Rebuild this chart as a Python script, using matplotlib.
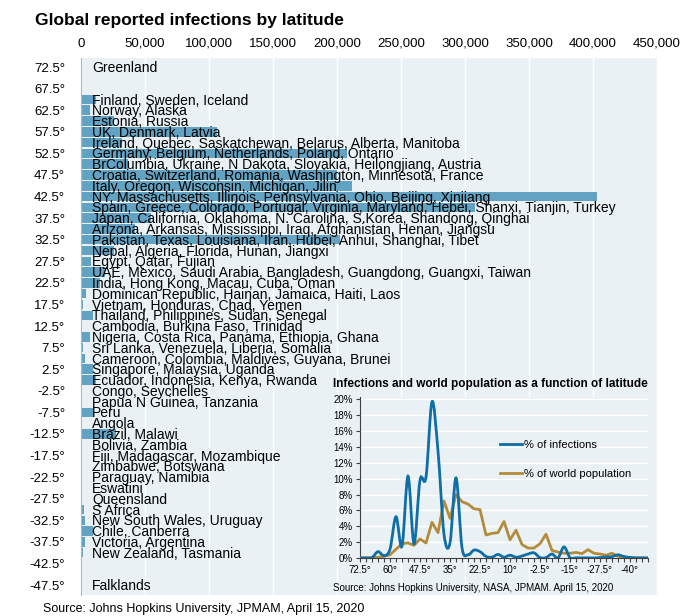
import numpy as np
import matplotlib
matplotlib.use('Agg')
import matplotlib.pyplot as plt
from matplotlib.path import Path
from matplotlib.patches import PathPatch
from matplotlib.lines import Line2D

plt.rcParams['font.family'] = ['Liberation Sans', 'DejaVu Sans']

# latitude bands, 2.5 degree steps from north to south
latitudes = [72.5, 70, 67.5, 65, 62.5, 60, 57.5, 55, 52.5, 50, 47.5, 45, 42.5, 40,
             37.5, 35, 32.5, 30, 27.5, 25, 22.5, 20, 17.5, 15, 12.5, 10, 7.5, 5,
             2.5, 0, -2.5, -5, -7.5, -10, -12.5, -15, -17.5, -20, -22.5, -25,
             -27.5, -30, -32.5, -35, -37.5, -40, -42.5, -45, -47.5]

places = ['Greenland', '', '', 'Finland, Sweden, Iceland', 'Norway, Alaska',
          'Estonia, Russia', 'UK, Denmark, Latvia',
          'Ireland, Quebec, Saskatchewan, Belarus, Alberta, Manitoba',
          'Germany, Belgium, Netherlands, Poland, Ontario',
          'BrColumbia, Ukraine, N Dakota, Slovakia, Heilongjiang, Austria',
          'Croatia, Switzerland, Romania, Washington, Minnesota, France',
          'Italy, Oregon, Wisconsin, Michigan, Jilin',
          'NY, Massachusetts, Illinois, Pennsylvania, Ohio, Beijing, Xinjiang',
          'Spain, Greece, Colorado, Portugal, Virginia, Maryland, Hebei, Shanxi, Tianjin, Turkey',
          'Japan, California, Oklahoma, N. Carolina, S.Korea, Shandong, Qinghai',
          'Arizona, Arkansas, Mississippi, Iraq, Afghanistan, Henan, Jiangsu',
          'Pakistan, Texas, Louisiana, Iran, Hubei, Anhui, Shanghai, Tibet',
          'Nepal, Algeria, Florida, Hunan, Jiangxi',
          'Egypt, Qatar, Fujian',
          'UAE, Mexico, Saudi Arabia, Bangladesh, Guangdong, Guangxi, Taiwan',
          'India, Hong Kong, Macau, Cuba, Oman',
          'Dominican Republic, Hainan, Jamaica, Haiti, Laos',
          'Vietnam, Honduras, Chad, Yemen',
          'Thailand, Philippines, Sudan, Senegal',
          'Cambodia, Burkina Faso, Trinidad',
          'Nigeria, Costa Rica, Panama, Ethiopia, Ghana',
          'Sri Lanka, Venezuela, Liberia, Somalia',
          'Cameroon, Colombia, Maldives, Guyana, Brunei',
          'Singapore, Malaysia, Uganda',
          'Ecuador, Indonesia, Kenya, Rwanda',
          'Congo, Seychelles',
          'Papua N Guinea, Tanzania',
          'Peru', 'Angola', 'Brazil, Malawi', 'Bolivia, Zambia',
          'Fiji, Madagascar, Mozambique', 'Zimbabwe, Botswana',
          'Paraguay, Namibia', 'Eswatini', 'Queensland', 'S Africa',
          'New South Wales, Uruguay', 'Chile, Canberra', 'Victoria, Argentina',
          'New Zealand, Tasmania', '', '', 'Falklands']

infections = [11, 0, 0, 12000, 7000, 25500, 106500, 32000, 208000, 37000,
              200000, 212000, 403000, 308000, 55000, 42000, 202000, 26000,
              8000, 19000, 15000, 4000, 1500, 9000, 1000, 6800, 1500, 3500,
              9000, 11500, 500, 400, 9500, 20, 27000, 500, 150, 300, 150, 20,
              1000, 2500, 3200, 9000, 3500, 1500, 0, 0, 10]

# inset: share of infections and of world population per band (%)
pct_infections = [0.0, 0.0, 0.05, 0.8, 0.3, 1.1, 5.2, 1.5, 10.3, 1.8, 9.8, 10.2,
                  19.7, 13.5, 3.0, 1.9, 10.1, 1.3, 0.4, 1.0, 0.8, 0.2, 0.1, 0.45,
                  0.1, 0.35, 0.1, 0.25, 0.5, 0.65, 0.05, 0.05, 0.5, 0.0, 1.4, 0.05,
                  0.02, 0.02, 0.02, 0.0, 0.05, 0.12, 0.17, 0.4, 0.18, 0.07, 0.0,
                  0.0, 0.0]
pct_population = [0.03, 0.03, 0.05, 0.1, 0.2, 0.4, 1.1, 1.8, 1.9, 1.6, 2.4, 1.9,
                  4.5, 3.2, 7.2, 5.0, 8.0, 7.1, 6.8, 6.2, 6.1, 2.9, 3.1, 3.2,
                  4.6, 2.3, 3.5, 1.7, 1.25, 1.25, 1.8, 3.0, 0.95, 0.75, 0.6, 0.6,
                  0.7, 0.55, 1.05, 0.6, 0.5, 0.35, 0.6, 0.2, 0.1, 0.05, 0.03,
                  0.02, 0.01]

ytick_lats = [72.5, 67.5, 62.5, 57.5, 52.5, 47.5, 42.5, 37.5, 32.5, 27.5, 22.5,
              17.5, 12.5, 7.5, 2.5, -2.5, -7.5, -12.5, -17.5, -22.5, -27.5,
              -32.5, -37.5, -42.5, -47.5]
xticks = [0, 50000, 100000, 150000, 200000, 250000, 300000, 350000, 400000, 450000]

BG = '#e9f1f5'
BAR = '#62a2c3'
BLUE = '#0f6ea6'
GOLD = '#b38b3c'

W, H = 692, 616
fig = plt.figure(figsize=(W / 100, H / 100), dpi=100)

# main bar chart
ax = fig.add_axes([81 / W, 1 - 595 / H, 576 / W, 537 / H])
ax.set_facecolor(BG)
ax.barh(latitudes, infections, height=2.2, color=BAR, zorder=2)
for lat, name in zip(latitudes, places):
    ax.text(8500, lat - 0.25, name, fontsize=10, ha='left', va='center', zorder=3)

ax.set_xlim(0, 450000)
ax.set_ylim(-49.8, 74.6)
ax.set_xticks(xticks)
ax.set_xticklabels([f'{v:,}' for v in xticks])
ax.xaxis.tick_top()
ax.tick_params(axis='x', length=0, pad=6, labelsize=9.5)
ax.set_yticks(ytick_lats)
ax.set_yticklabels([f'{v:g}°' for v in ytick_lats])
ax.tick_params(axis='y', length=0, pad=11.5, labelsize=9.5)
ax.set_axisbelow(True)
ax.grid(axis='x', color='white', lw=1)
for s in ['top', 'right', 'bottom']:
    ax.spines[s].set_visible(False)
ax.spines['left'].set_color('#b0b8bd')
ax.spines['left'].set_linewidth(0.8)

fig.text(35 / W, 1 - 20 / H, 'Global reported infections by latitude',
         fontsize=12.5, fontweight='bold', ha='left', va='center')
fig.text(43 / W, 1 - 609 / H, 'Source: Johns Hopkins University, JPMAM, April 15, 2020',
         fontsize=9, ha='left', va='center')

# inset line chart
ax2 = fig.add_axes([360 / W, 1 - 558 / H, 288 / W, 161 / H])
ax2.set_facecolor(BG)
idx = np.arange(len(latitudes))

# smooth curve (Excel-like) for the infections series
pts = np.column_stack([idx, pct_infections]).astype(float)
ext = np.vstack([pts[0], pts, pts[-1]])
verts = [pts[0]]
codes = [Path.MOVETO]
for k in range(len(pts) - 1):
    p0, p1, p2, p3 = ext[k], ext[k + 1], ext[k + 2], ext[k + 3]
    verts += [p1 + (p2 - p0) / 6, p2 - (p3 - p1) / 6, p2]
    codes += [Path.CURVE4] * 3

ax2.plot(idx, pct_population, color=GOLD, lw=2, zorder=3)
ax2.add_patch(PathPatch(Path(verts, codes), fill=False, edgecolor=BLUE, lw=2, zorder=4))

ax2.set_xlim(0, len(latitudes) - 1)
ax2.set_ylim(0, 20.3)
ax2.set_yticks(range(0, 21, 2))
ax2.set_yticklabels([f'{v}%' for v in range(0, 21, 2)])
ax2.set_xticks(idx[::5])
ax2.set_xticklabels([f'{latitudes[i]:g}°' for i in idx[::5]])
ax2.set_xticks(idx, minor=True)
ax2.tick_params(axis='both', which='both', labelsize=7, length=3, width=0.8,
                color='#404040', pad=2)
ax2.set_axisbelow(True)
ax2.grid(axis='y', color='white', lw=1)
for s in ['top', 'right']:
    ax2.spines[s].set_visible(False)
for s in ['left', 'bottom']:
    ax2.spines[s].set_color('#404040')
    ax2.spines[s].set_linewidth(0.8)

handles = [Line2D([], [], color=BLUE, lw=2, label='% of infections'),
           Line2D([], [], color=GOLD, lw=2, label='% of world population')]
ax2.legend(handles=handles, loc='upper left', bbox_to_anchor=(0.486, 0.735),
           frameon=False, fontsize=8, handlelength=2.0, handletextpad=0.2,
           labelspacing=1.75, borderpad=0, borderaxespad=0)

fig.text(333 / W, 1 - 384 / H, 'Infections and world population as a function of latitude',
         fontsize=8.5, fontweight='bold', ha='left', va='center')
fig.text(333 / W, 1 - 588 / H, 'Source: Johns Hopkins University, NASA, JPMAM. April 15, 2020',
         fontsize=7, ha='left', va='center')

fig.savefig('out.png', dpi=100)
